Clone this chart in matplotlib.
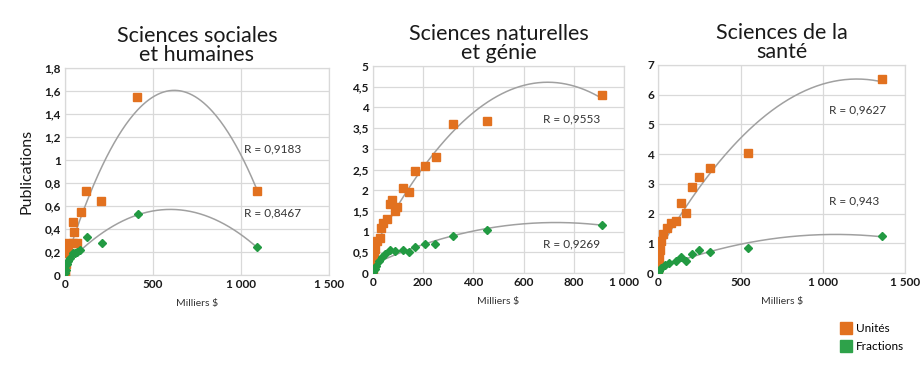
import numpy as np
import matplotlib
matplotlib.use("Agg")
import matplotlib.pyplot as plt
from matplotlib.lines import Line2D

plt.rcParams['font.family'] = ['Lato', 'DejaVu Sans']

ORANGE = '#E2711F'
GREEN = '#229A42'
TREND = '#A0A0A0'
GRID = '#D9D9D9'

# Sciences sociales et humaines
ssh_u_x = [0, 0, 4, 10, 19, 19, 44, 66, 47, 53, 89, 120, 205, 412, 1092]
ssh_u_y = [0, 0.03, 0.1, 0.19, 0.2, 0.28, 0.28, 0.28, 0.46, 0.37, 0.55, 0.73, 0.64, 1.55, 0.73]
ssh_f_x = [0, 4, 9, 19, 28, 44, 57, 66, 85, 123, 208, 413, 1092]
ssh_f_y = [0.015, 0.04, 0.1, 0.12, 0.145, 0.19, 0.19, 0.2, 0.22, 0.33, 0.275, 0.53, 0.24]

# Sciences naturelles et génie
sng_u_x = [0, 3, 5, 9, 16, 27, 33, 40, 56, 67, 76, 87, 96, 119, 143, 169, 207, 252, 320, 456, 912]
sng_u_y = [0.06, 0.22, 0.38, 0.58, 0.78, 0.85, 1.09, 1.2, 1.31, 1.67, 1.77, 1.49, 1.59, 2.05, 1.95,
           2.46, 2.58, 2.8, 3.59, 3.68, 4.31]
sng_f_x = [0, 7, 13, 23, 36, 49, 67, 89, 119, 143, 167, 207, 249, 320, 453, 912]
sng_f_y = [0.02, 0.1, 0.18, 0.3, 0.38, 0.46, 0.56, 0.54, 0.56, 0.5, 0.64, 0.7, 0.7, 0.89, 1.04, 1.17]

# Sciences de la santé
san_u_x = [0, 2, 6, 10, 20, 30, 53, 79, 108, 138, 168, 203, 250, 316, 546, 1357]
san_u_y = [0, 0.23, 0.51, 0.79, 1.07, 1.3, 1.52, 1.69, 1.75, 2.35, 2.01, 2.88, 3.24, 3.53, 4.04, 6.52]
san_f_x = [0, 6, 20, 39, 69, 108, 138, 168, 203, 250, 316, 546, 1357]
san_f_y = [0, 0.06, 0.17, 0.28, 0.34, 0.4, 0.53, 0.42, 0.64, 0.76, 0.71, 0.85, 1.24]

titles = ['Sciences sociales\net humaines', 'Sciences naturelles\net génie', 'Sciences de la\nsanté']
r_units = ['R = 0,9183', 'R = 0,9553', 'R = 0,9627']
r_fracs = ['R = 0,8467', 'R = 0,9269', 'R = 0,943']
x_max = [1500, 1000, 1500]
x_step = [500, 200, 500]
y_max = [1.8, 5, 7]
y_step = [0.2, 0.5, 1]
r_pos = [(1020, 1.10, 0.54), (677, 3.72, 0.71), (1037, 5.48, 2.43)]

units = [(ssh_u_x, ssh_u_y), (sng_u_x, sng_u_y), (san_u_x, san_u_y)]
fracs = [(ssh_f_x, ssh_f_y), (sng_f_x, sng_f_y), (san_f_x, san_f_y)]

boxes = [[0.0704, 0.2627, 0.286, 0.555],
         [0.404, 0.268, 0.272, 0.555],
         [0.713, 0.268, 0.268, 0.558]]


def fmt_num(v):
    if abs(v - round(v)) < 1e-9:
        s = f'{int(round(v)):,}'.replace(',', ' ')
    else:
        s = f'{v:.1f}'.replace('.', ',')
    return s


fig = plt.figure(figsize=(9.23, 3.73), dpi=100)

for i in range(3):
    ax = fig.add_axes(boxes[i])
    for (xs, ys), col, mk, ms in [(units[i], ORANGE, 's', 5.5), (fracs[i], GREEN, 'D', 4)]:
        xs = np.array(xs, float)
        ys = np.array(ys, float)
        coef = np.polyfit(xs, ys, 2)
        xx = np.linspace(xs.min(), xs.max(), 200)
        ax.plot(xx, np.polyval(coef, xx), color=TREND, lw=1.1, zorder=2)
        ax.plot(xs, ys, ls='none', marker=mk, ms=ms, color=col,
                markeredgecolor=col, zorder=3)
    ax.set_xlim(0, x_max[i])
    ax.set_ylim(0, y_max[i])
    xt = np.arange(0, x_max[i] + 1e-6, x_step[i])
    yt = np.arange(0, y_max[i] + 1e-6, y_step[i])
    ax.set_xticks(xt)
    ax.set_yticks(yt)
    ax.set_xticklabels([fmt_num(v) for v in xt])
    ax.set_yticklabels([fmt_num(v) for v in yt])
    ax.tick_params(length=0, labelsize=8.5, pad=3)
    for lab in ax.get_xticklabels() + ax.get_yticklabels():
        lab.set_fontweight('bold')
        lab.set_color('#1a1a1a')
    ax.grid(True, color=GRID, lw=0.9)
    ax.set_axisbelow(True)
    for sp in ax.spines.values():
        sp.set_color(GRID)
        sp.set_linewidth(0.9)
    ax.set_xlabel('Milliers $', fontsize=7.5, color='#333333', labelpad=6)
    ax.set_title(titles[i], fontsize=15.5, color='#1a1a1a', pad=5, linespacing=0.95)
    rx, ry1, ry2 = r_pos[i]
    ax.text(rx, ry1, r_units[i], fontsize=8.5, color='#333333', va='center', ha='left')
    ax.text(rx, ry2, r_fracs[i], fontsize=8.5, color='#333333', va='center', ha='left')
    if i == 0:
        ax.set_ylabel('Publications', fontsize=11.5, color='#1a1a1a', labelpad=8)

handles = [Line2D([], [], ls='none', marker='s', ms=8, color=ORANGE),
           Line2D([], [], ls='none', marker='s', ms=8, color='#2EA24A')]
fig.legend(handles, ['Unités', 'Fractions'], loc='upper left', bbox_to_anchor=(0.912, 0.135),
           frameon=False, fontsize=8.5, handlelength=0.8, handletextpad=0.4, labelspacing=0.6,
           borderaxespad=0, borderpad=0)

fig.savefig('out.png', dpi=100, facecolor='white')
